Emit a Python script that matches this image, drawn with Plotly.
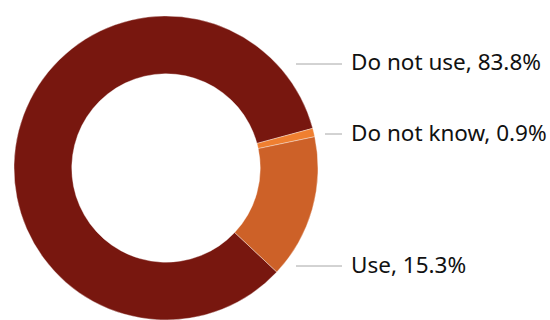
import plotly.graph_objects as go

# Survey answers and their shares (%)
labels = ["Do not use", "Do not know", "Use"]
values = [83.8, 0.9, 15.3]
colors = ["#78170F", "#EF7F30", "#CD6128"]

# Label placement (pixel y of each callout, from top) and leader line starts
label_y_px = [62, 132, 264]
line_x0_px = [296, 325, 296]

W, H = 550, 320

fig = go.Figure(
    go.Pie(
        labels=labels,
        values=values,
        hole=0.62,
        sort=False,
        direction="clockwise",
        rotation=133.2,
        marker=dict(colors=colors, line=dict(color="rgba(255,255,255,0.6)", width=0.6)),
        textinfo="none",
        hoverinfo="label+percent",
        showlegend=False,
        domain=dict(x=[14 / W, 318 / W], y=[0, 304 / H]),
    )
)

for lab, val, y, x0 in zip(labels, values, label_y_px, line_x0_px):
    yp = 1 - y / H
    ly = 1 - (y + 2) / H
    fig.add_shape(
        type="line", xref="paper", yref="paper",
        x0=x0 / W, x1=342 / W, y0=ly, y1=ly,
        line=dict(color="#A6A6A6", width=1),
    )
    fig.add_annotation(
        x=349 / W, y=yp, xref="paper", yref="paper",
        xanchor="left", yanchor="middle",
        text=f"{lab}, {val}%", showarrow=False,
        font=dict(family="Noto Sans", size=22.5, color="#111111"),
    )

fig.update_layout(
    width=W, height=H,
    margin=dict(l=0, r=0, t=0, b=0),
    paper_bgcolor="white",
    plot_bgcolor="white",
)

fig.write_html("out.html")
